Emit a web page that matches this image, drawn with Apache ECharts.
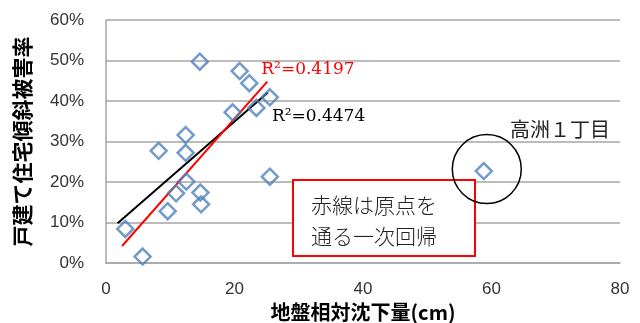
<!DOCTYPE html>
<html><head><meta charset="utf-8">
<script src="https://cdn.jsdelivr.net/npm/echarts@6/dist/echarts.min.js"></script>
<style>html,body{margin:0;padding:0;background:#fff}#c{width:640px;height:323px}</style>
</head><body><div id="c"></div>
<script>
// data (x: cm, y: %)
const xVals = [3.0, 5.7, 8.2, 9.6, 10.9, 12.4, 12.4, 12.5, 14.6, 14.7, 14.8, 19.7, 20.8, 22.3, 23.4, 25.5, 25.5, 58.8];
const yVals = [8.4, 1.6, 27.7, 12.8, 17.2, 31.6, 27.2, 20.1, 49.7, 17.4, 14.5, 37.2, 47.4, 44.4, 38.3, 40.9, 21.3, 22.7];
// trend lines endpoints
const linTrendX = [1.8, 25.2];
const linTrendY = [9.8, 42.1];
const originTrendX = [2.5, 25.1];
const originTrendY = [4.2, 44.8];
const linR2 = 'R²=0.4474';
const originR2 = 'R²=0.4197';
const outlierName = '高洲１丁目';
const noteLines = ['赤線は原点を', '通る一次回帰'];
const xTicks = [0, 20, 40, 60, 80];
const yTicks = [0, 10, 20, 30, 40, 50, 60];

const chart = echarts.init(document.getElementById('c'), null, {renderer: 'canvas'});
const pts = xVals.map((x, i) => [x, yVals[i]]);
const outlierIdx = xVals.indexOf(Math.max(...xVals));
const tickFont = {fontFamily: 'Liberation Sans', fontSize: 17, color: '#333'};
chart.setOption({
  animation: false,
  grid: {left: 106, right: 20, top: 20, bottom: 60, containLabel: false, outerBoundsMode: 'none'},
  xAxis: {
    type: 'value', min: xTicks[0], max: xTicks[xTicks.length - 1], interval: 20,
    name: '地盤相対沈下量(cm)', nameLocation: 'middle', nameGap: 36,
    nameTextStyle: {fontFamily: 'Noto Sans CJK JP', fontWeight: 'bold', fontSize: 20, color: '#000'},
    axisLine: {show: true, lineStyle: {color: '#a6a6a6', width: 1.5}},
    axisTick: {show: false},
    splitLine: {show: false},
    axisLabel: Object.assign({margin: 18}, tickFont)
  },
  yAxis: {
    type: 'value', min: yTicks[0], max: yTicks[yTicks.length - 1], interval: 10,
    name: '戸建て住宅傾斜被害率', nameLocation: 'middle', nameGap: 73, nameRotate: 90,
    nameTextStyle: {fontFamily: 'Noto Sans CJK JP', fontWeight: 'bold', fontSize: 21, color: '#000'},
    axisLine: {show: true, lineStyle: {color: '#a6a6a6', width: 1.5}},
    axisTick: {show: false},
    splitLine: {show: true, lineStyle: {color: '#a6a6a6', width: 1.5}},
    axisLabel: Object.assign({margin: 22, formatter: '{value}%'}, tickFont)
  },
  series: [
    {type: 'line', data: linTrendX.map((x, i) => [x, linTrendY[i]]), symbol: 'none',
     lineStyle: {color: '#000', width: 2}, z: 3},
    {type: 'line', data: originTrendX.map((x, i) => [x, originTrendY[i]]), symbol: 'none',
     lineStyle: {color: '#ff0000', width: 2}, z: 3},
    {type: 'scatter', data: pts, symbol: 'diamond', symbolSize: 16,
     itemStyle: {color: 'rgba(0,0,0,0)', borderColor: '#4f81bd', borderWidth: 2.5}, z: 4}
  ]
});
const op = chart.convertToPixel({seriesIndex: 2}, pts[outlierIdx]);
const rEnd = chart.convertToPixel({seriesIndex: 1}, [originTrendX[1], originTrendY[1]]);
const bEnd = chart.convertToPixel({seriesIndex: 0}, [linTrendX[1], linTrendY[1]]);
chart.setOption({
  graphic: [
    {type: 'circle', shape: {cx: op[0] + 3, cy: op[1] - 2, r: 34.5}, style: {fill: 'none', stroke: '#000', lineWidth: 1.5}, z: 10},
    {type: 'text', x: 510, y: 119, style: {text: outlierName, fontFamily: 'Noto Sans CJK JP', fontSize: 20, fill: '#222'}, z: 10},
    {type: 'text', x: rEnd[0] - 6, y: rEnd[1] - 20, style: {text: originR2, fontFamily: 'DejaVu Serif', fontSize: 17, fill: '#ff0000'}, z: 10},
    {type: 'text', x: bEnd[0] + 4, y: bEnd[1] + 16, style: {text: linR2, fontFamily: 'DejaVu Serif', fontSize: 17, fill: '#000'}, z: 10},
    {type: 'rect', shape: {x: 293, y: 180, width: 182, height: 76}, style: {fill: '#fff', stroke: '#ff0000', lineWidth: 2}, z: 9},
    {type: 'text', x: 311, y: 190, style: {text: noteLines.join('\n'), fontFamily: 'Noto Sans CJK JP', fontWeight: 300, fontSize: 21, lineHeight: 31, fill: '#222'}, z: 10}
  ]
});
</script></body></html>
